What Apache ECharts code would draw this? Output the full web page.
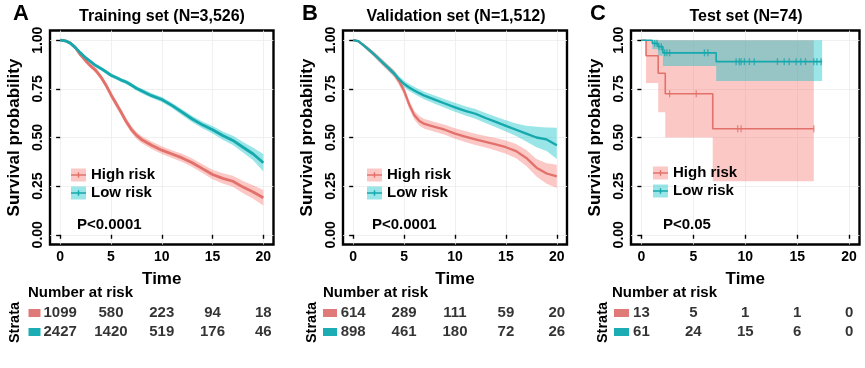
<!DOCTYPE html>
<html><head><meta charset="utf-8">
<script src="https://cdn.jsdelivr.net/npm/echarts@6/dist/echarts.min.js"></script>
<style>html,body{margin:0;padding:0;background:#fff}#c{width:865px;height:368px}</style>
</head><body><div id="c"></div>
<script>
// ---------- data ----------
const timesAB = [0,0.5,1,1.5,2,2.5,3,3.5,4,4.5,5,5.5,6,6.5,7,7.5,8,9,10,11,12,13,14,15,16,17,18,19,20];

const trainHigh   = [1.000,0.997,0.985,0.962,0.925,0.895,0.868,0.845,0.812,0.770,0.720,0.675,0.630,0.582,0.542,0.512,0.490,0.460,0.435,0.415,0.395,0.370,0.340,0.310,0.290,0.275,0.245,0.220,0.190];
const trainHighLo = [1.000,0.994,0.980,0.954,0.915,0.884,0.856,0.832,0.798,0.755,0.704,0.658,0.613,0.564,0.524,0.494,0.472,0.441,0.415,0.395,0.374,0.348,0.317,0.286,0.264,0.247,0.214,0.185,0.150];
const trainHighHi = [1.000,1.000,0.990,0.970,0.935,0.906,0.880,0.858,0.826,0.785,0.736,0.692,0.647,0.600,0.560,0.530,0.508,0.479,0.455,0.435,0.416,0.392,0.363,0.334,0.316,0.303,0.276,0.255,0.230];
const trainLow    = [1.000,0.997,0.985,0.962,0.935,0.910,0.890,0.870,0.855,0.838,0.820,0.808,0.795,0.785,0.770,0.753,0.740,0.715,0.695,0.665,0.630,0.595,0.565,0.540,0.510,0.485,0.450,0.415,0.370];
const trainLowLo  = [1.000,0.995,0.981,0.957,0.929,0.903,0.882,0.862,0.846,0.829,0.810,0.798,0.785,0.774,0.759,0.742,0.728,0.703,0.682,0.651,0.615,0.579,0.548,0.521,0.489,0.461,0.423,0.383,0.325];
const trainLowHi  = [1.000,0.999,0.989,0.967,0.941,0.917,0.898,0.878,0.864,0.847,0.830,0.818,0.805,0.796,0.781,0.764,0.752,0.727,0.708,0.679,0.645,0.611,0.582,0.559,0.531,0.509,0.477,0.447,0.415];

const validHigh   = [1.000,0.995,0.975,0.953,0.930,0.905,0.880,0.855,0.830,0.790,0.740,0.670,0.615,0.585,0.570,0.562,0.555,0.540,0.520,0.505,0.490,0.478,0.465,0.450,0.430,0.395,0.345,0.315,0.300];
const validHighLo = [1.000,0.990,0.966,0.941,0.917,0.890,0.864,0.838,0.812,0.770,0.719,0.648,0.592,0.561,0.545,0.537,0.530,0.514,0.493,0.477,0.461,0.448,0.433,0.416,0.393,0.354,0.300,0.262,0.240];
const validHighHi = [1.000,1.000,0.984,0.965,0.943,0.920,0.896,0.872,0.848,0.810,0.761,0.692,0.638,0.609,0.595,0.587,0.580,0.566,0.547,0.533,0.519,0.508,0.497,0.484,0.467,0.436,0.390,0.368,0.360];
const validLow    = [1.000,0.995,0.975,0.953,0.930,0.905,0.880,0.855,0.830,0.800,0.775,0.757,0.742,0.728,0.715,0.705,0.695,0.675,0.655,0.637,0.622,0.600,0.580,0.560,0.540,0.520,0.500,0.490,0.460];
const validLowLo  = [1.000,0.991,0.967,0.943,0.919,0.893,0.867,0.841,0.815,0.784,0.758,0.739,0.723,0.709,0.695,0.685,0.674,0.653,0.632,0.613,0.597,0.574,0.553,0.531,0.508,0.480,0.450,0.430,0.390];
const validLowHi  = [1.000,0.999,0.983,0.963,0.941,0.917,0.893,0.869,0.845,0.816,0.792,0.775,0.761,0.747,0.735,0.725,0.716,0.697,0.678,0.661,0.647,0.626,0.607,0.589,0.572,0.560,0.555,0.552,0.550];

const testHighTimes = [0,0.45,1.62,2.3,6.87,16.6];
const testHigh      = [1,0.92,0.83,0.725,0.545,0.545];
const testHighLo    = [1,0.78,0.63,0.50,0.275,0.275];
const testHighHi    = [1,1,1,1,1,1];
const testLowTimes  = [0,1.05,1.6,2.07,7.2,17.4];
const testLow       = [1,0.984,0.967,0.935,0.89,0.89];
const testLowLo     = [1,0.953,0.92,0.868,0.79,0.79];
const testLowHi     = [1,1,1,1,1,1];
const testHighCensorT = [2.72,5.28,9.27,9.6,16.6];
const testHighCensorS = [0.725,0.725,0.545,0.545,0.545];
const testLowCensorT  = [1.28,1.5,1.69,1.92,2.24,2.46,2.72,6.07,6.4,9.12,9.43,9.6,9.92,10.4,10.87,13.1,13.75,14.23,14.9,15.35,15.8,16.6,16.9,17.3];
const testLowCensorS  = [0.984,0.984,0.967,0.967,0.935,0.935,0.935,0.935,0.935,0.89,0.89,0.89,0.89,0.89,0.89,0.89,0.89,0.89,0.89,0.89,0.89,0.89,0.89,0.89];

const riskTimes = [0,5,10,15,20];
const riskTrainHigh = [1099,580,223,94,18];
const riskTrainLow  = [2427,1420,519,176,46];
const riskValidHigh = [614,289,111,59,20];
const riskValidLow  = [898,461,180,72,26];
const riskTestHigh  = [13,5,1,1,0];
const riskTestLow   = [61,24,15,6,0];

const xTicks = [0,5,10,15,20];
const yTicks = [0,0.25,0.5,0.75,1];
const groupNames = ['High risk','Low risk'];

// ---------- styling / layout ----------
const RED = '#E2716B', TEAL = '#15A8AD';
const RED_BAND = 'rgba(248,118,109,0.4)', TEAL_BAND = 'rgba(0,191,196,0.4)';
const RED_KEY = '#E07A78', TEAL_KEY = '#1CACB4';
const FONT = 'Liberation Sans, Arial, sans-serif';

const panels = [
  {letter:'A', title:'Training set (N=3,526)', p:'P<0.0001', left:50, width:223.5, letterX:13, titleX:162, legendX:71, legendY:166, pX:77, nrX:28,
   rectW:12, rectMargin:9.5, strataGap:28, lineW:2.8,
   high:{t:timesAB, s:trainHigh, lo:trainHighLo, hi:trainHighHi}, low:{t:timesAB, s:trainLow, lo:trainLowLo, hi:trainLowHi},
   riskHigh:riskTrainHigh, riskLow:riskTrainLow, step:false},
  {letter:'B', title:'Validation set (N=1,512)', p:'P<0.0001', left:343, width:224, letterX:302, titleX:456, legendX:367, legendY:166, pX:372, nrX:323,
   rectW:14, rectMargin:6, strataGap:21.5, lineW:2.3,
   high:{t:timesAB, s:validHigh, lo:validHighLo, hi:validHighHi}, low:{t:timesAB, s:validLow, lo:validLowLo, hi:validLowHi},
   riskHigh:riskValidHigh, riskLow:riskValidLow, step:false},
  {letter:'C', title:'Test set (N=74)', p:'P<0.05', left:631, width:228.5, letterX:590, titleX:746, legendX:653, legendY:164, pX:663, nrX:612,
   rectW:15, rectMargin:2, strataGap:20, lineW:1.6,
   high:{t:testHighTimes, s:testHigh, lo:testHighLo, hi:testHighHi}, low:{t:testLowTimes, s:testLow, lo:testLowLo, hi:testLowHi},
   riskHigh:riskTestHigh, riskLow:riskTestLow, step:true,
   censor:[{t:testHighCensorT, s:testHighCensorS, c:RED},{t:testLowCensorT, s:testLowCensorS, c:TEAL}]}
];

const grids = [], xAxes = [], yAxes = [], series = [], titles = [], legends = [];
const bold = {fontWeight:'bold', color:'#000', fontFamily:FONT};

function bandRenderer(pts, step, color) {
  return function (params, api) {
    if (params.dataIndex !== 0) return null;
    const upper = [], lower = [];
    for (let j = 0; j < pts.length; j++) {
      upper.push(api.coord([pts[j][0], pts[j][2]]));
      lower.push(api.coord([pts[j][0], pts[j][1]]));
      if (step && j < pts.length - 1) {
        upper.push(api.coord([pts[j+1][0], pts[j][2]]));
        lower.push(api.coord([pts[j+1][0], pts[j][1]]));
      }
    }
    return {type:'polygon', shape:{points:upper.concat(lower.reverse())}, style:{fill:color}, silent:true};
  };
}

panels.forEach((P, i) => {
  const gPlot = 2*i, gTab = 2*i+1;
  grids.push({left:P.left, width:P.width, top:30.5, height:214, show:true, borderColor:'#000', borderWidth:2.4, backgroundColor:'#fff'});
  grids.push({left:P.left, width:P.width, top:303.5, height:38});

  xAxes.push({type:'value', gridIndex:gPlot, min:-1, max:21,
    axisLine:{show:false},
    axisTick:{show:true, length:4, lineStyle:{color:'#000', width:1.4}, customValues:xTicks},
    axisLabel:Object.assign({customValues:xTicks, fontSize:14, margin:6}, bold),
    splitLine:{show:true, lineStyle:{color:'#ececec', width:0.8}},
    name:'Time', nameLocation:'middle', nameGap:26, nameTextStyle:Object.assign({fontSize:17}, bold)});
  yAxes.push({type:'value', gridIndex:gPlot, min:-0.05, max:1.05,
    axisLine:{show:false},
    axisTick:{show:true, length:4, lineStyle:{color:'#000', width:1.4}, customValues:yTicks},
    axisLabel:Object.assign({customValues:yTicks, fontSize:14, margin:5, rotate:90, formatter:v => v.toFixed(2)}, bold),
    splitLine:{show:true, lineStyle:{color:'#ececec', width:0.8}},
    name:'Survival probability', nameLocation:'middle', nameRotate:90, nameGap:27, nameTextStyle:Object.assign({fontSize:17}, bold)});

  xAxes.push({type:'value', gridIndex:gTab, min:-1, max:21, show:false});
  yAxes.push({type:'category', gridIndex:gTab, data:['Low','High'],
    axisLine:{show:false}, axisTick:{show:false}, splitLine:{show:false},
    axisLabel:{margin:P.rectMargin, formatter:v => v === 'High' ? '{hi| }' : '{lo| }',
      rich:{hi:{width:P.rectW, height:8, backgroundColor:RED_KEY}, lo:{width:P.rectW, height:8, backgroundColor:TEAL_KEY}}},
    name:'Strata', nameLocation:'middle', nameRotate:90, nameGap:P.strataGap, nameTextStyle:Object.assign({fontSize:14.5}, bold)});

  const groups = [
    {name:groupNames[0], d:P.high, line:RED, band:RED_BAND},
    {name:groupNames[1], d:P.low, line:TEAL, band:TEAL_BAND}
  ];
  // confidence bands
  groups.forEach(g => {
    const pts = g.d.t.map((t, j) => [t, g.d.lo[j], g.d.hi[j]]);
    series.push({type:'custom', name:g.name + ' CI', xAxisIndex:gPlot, yAxisIndex:gPlot, z:1, silent:true,
      encode:{x:0, y:[1,2]}, data:pts, renderItem:bandRenderer(pts, P.step, g.band)});
  });
  // survival curves
  groups.forEach(g => {
    series.push({type:'line', name:g.name, xAxisIndex:gPlot, yAxisIndex:gPlot, symbol:'none', z:3,
      step:P.step ? 'end' : false, lineStyle:{color:g.line, width:P.lineW}, itemStyle:{color:g.line},
      data:g.d.t.map((t, j) => [t, g.d.s[j]])});
  });
  // censor marks
  if (P.censor) {
    P.censor.forEach(c => {
      series.push({type:'scatter', name:'censor', xAxisIndex:gPlot, yAxisIndex:gPlot, symbol:'rect', symbolSize:[1.3, 7], z:4,
        itemStyle:{color:c.c}, data:c.t.map((t, j) => [t, c.s[j]])});
    });
  }
  // risk table
  [['High', P.riskHigh], ['Low', P.riskLow]].forEach(r => {
    series.push({type:'scatter', name:'risk', xAxisIndex:gTab, yAxisIndex:gTab, symbolSize:1, itemStyle:{color:'rgba(0,0,0,0)'},
      label:Object.assign({show:true, position:'inside', fontSize:15, formatter:p => String(p.value[2])}, bold),
      data:riskTimes.map((t, j) => [t, r[0], r[1][j]])});
  });

  // texts
  titles.push({text:P.letter, left:P.letterX, top:2.5, padding:0, textStyle:Object.assign({fontSize:22}, bold)});
  titles.push({text:P.title, left:P.titleX, top:9, padding:0, textAlign:'center', textStyle:Object.assign({fontSize:16}, bold)});
  titles.push({text:P.p, left:P.pX, top:217.5, padding:0, textStyle:Object.assign({fontSize:15}, bold)});
  titles.push({text:'Number at risk', left:P.nrX, top:285.5, padding:0, textStyle:Object.assign({fontSize:15}, bold)});

  // legend: band swatches underneath, line keys on top
  const common = {orient:'vertical', left:P.legendX, top:P.legendY, padding:0, itemWidth:15, itemHeight:13, itemGap:0, selectedMode:false};
  legends.push(Object.assign({}, common, {z:4,
    textStyle:{fontSize:15, fontWeight:'bold', color:'rgba(0,0,0,0)', lineHeight:18, fontFamily:FONT},
    data:[{name:groupNames[0], icon:'rect', itemStyle:{color:RED_BAND, borderWidth:0}},
          {name:groupNames[1], icon:'rect', itemStyle:{color:TEAL_BAND, borderWidth:0}}]}));
  const keyPath = 'path://M0,0L0.05,0L0,0.05Z M15,13L14.95,13L15,12.95Z M0,5.8L15,5.8L15,7.2L0,7.2Z M6.8,3.8L8.2,3.8L8.2,9.2L6.8,9.2Z';
  legends.push(Object.assign({}, common, {z:5,
    textStyle:{fontSize:15, fontWeight:'bold', color:'#000', lineHeight:18, fontFamily:FONT},
    data:[{name:groupNames[0], icon:keyPath, itemStyle:{color:RED, borderWidth:0}},
          {name:groupNames[1], icon:keyPath, itemStyle:{color:TEAL, borderWidth:0}}]}));
});

const chart = echarts.init(document.getElementById('c'), null, {renderer:'canvas'});
chart.setOption({
  animation:false,
  backgroundColor:'#fff',
  textStyle:{fontFamily:FONT},
  title:titles, legend:legends, grid:grids, xAxis:xAxes, yAxis:yAxes, series:series
});
</script></body></html>
